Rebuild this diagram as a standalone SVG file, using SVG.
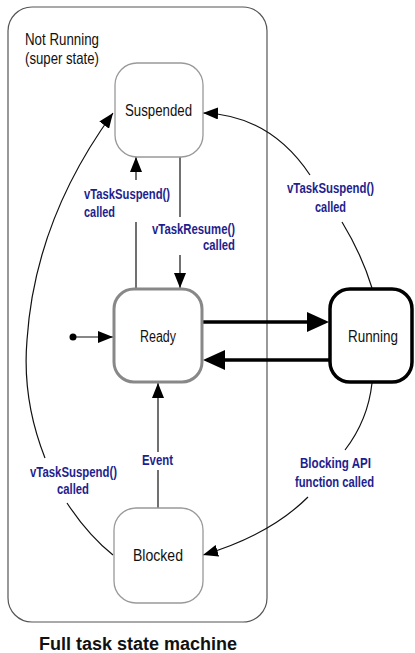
<svg xmlns="http://www.w3.org/2000/svg" width="415" height="653" viewBox="0 0 415 653">
<style>
.state{fill:#fff;}
.sname{font-family:"Liberation Sans",Arial,sans-serif;font-size:16px;fill:#111;text-anchor:middle;}
.lbl{font-family:"Liberation Sans",Arial,sans-serif;font-size:14.5px;font-weight:bold;fill:#1e1e8e;}
.conn{fill:none;stroke:#111;stroke-width:1.2;}
.thick{fill:none;stroke:#000;stroke-width:3.5;}
</style>
<defs>
<marker id="ah" markerUnits="userSpaceOnUse" markerWidth="16" markerHeight="12" refX="15" refY="6" orient="auto">
<path d="M0,0 L15,6 L0,12 z" fill="#000"/>
</marker>
<marker id="ahb" markerUnits="userSpaceOnUse" markerWidth="23" markerHeight="21" refX="0" refY="10" orient="auto">
<path d="M0,0 L22,10 L0,20 z" fill="#000"/>
</marker>
</defs>
<rect width="415" height="653" fill="#fff"/>
<g id="superstate">
<rect x="8" y="7" width="259" height="615" rx="24" fill="none" stroke="#555" stroke-width="1.2"/>
<text x="25" y="45" font-family="Liberation Sans,Arial,sans-serif" font-size="16.5" fill="#111" textLength="74" lengthAdjust="spacingAndGlyphs">Not Running</text>
<text x="25" y="64" font-family="Liberation Sans,Arial,sans-serif" font-size="16.5" fill="#111" textLength="74" lengthAdjust="spacingAndGlyphs">(super state)</text>
</g>
<g id="connectors">
<line class="conn" x1="136" y1="288" x2="136" y2="222"/>
<line class="conn" x1="136" y1="180" x2="136" y2="157" marker-end="url(#ah)"/>
<line class="conn" x1="180" y1="157" x2="180" y2="217"/>
<line class="conn" x1="180" y1="255" x2="180" y2="288" marker-end="url(#ah)"/>
<line class="thick" x1="203" y1="322" x2="307" y2="322" marker-end="url(#ahb)"/>
<line class="thick" x1="329" y1="360" x2="225" y2="360" marker-end="url(#ahb)"/>
<circle cx="73" cy="337" r="3.5" fill="#000"/>
<line class="conn" x1="76" y1="337" x2="113" y2="337" marker-end="url(#ah)"/>
<line class="conn" x1="158" y1="508" x2="158" y2="470"/>
<line class="conn" x1="158" y1="452" x2="158" y2="383" marker-end="url(#ah)"/>
<path class="conn" d="M113,555 Q88,535 67,503"/>
<path class="conn" d="M45,458 Q22,400 27,340 Q35,220 113,113" marker-end="url(#ah)"/>
<path class="conn" d="M372,288 Q362,255 342,222"/>
<path class="conn" d="M310,175 Q270,115 203,113" marker-end="url(#ah)"/>
<path class="conn" d="M372,383 Q368,420 345,450"/>
<path class="conn" d="M308,497 Q270,535 203,555" marker-end="url(#ah)"/>
<text class="lbl" x="84" y="199" textLength="86" lengthAdjust="spacingAndGlyphs">vTaskSuspend()</text>
<text class="lbl" x="84" y="217" textLength="31" lengthAdjust="spacingAndGlyphs">called</text>
<text class="lbl" x="152" y="234" textLength="83" lengthAdjust="spacingAndGlyphs">vTaskResume()</text>
<text class="lbl" x="203" y="250" textLength="32" lengthAdjust="spacingAndGlyphs">called</text>
<text class="lbl" x="287" y="193" textLength="87" lengthAdjust="spacingAndGlyphs">vTaskSuspend()</text>
<text class="lbl" x="315" y="212" textLength="31" lengthAdjust="spacingAndGlyphs">called</text>
<text class="lbl" x="30" y="477" textLength="87" lengthAdjust="spacingAndGlyphs">vTaskSuspend()</text>
<text class="lbl" x="57" y="494" textLength="32" lengthAdjust="spacingAndGlyphs">called</text>
<text class="lbl" x="142" y="465" textLength="31" lengthAdjust="spacingAndGlyphs">Event</text>
<text class="lbl" x="300" y="468" textLength="71" lengthAdjust="spacingAndGlyphs">Blocking API</text>
<text class="lbl" x="295" y="487" textLength="79" lengthAdjust="spacingAndGlyphs">function called</text>
</g>
<g id="suspended">
<rect class="state" x="115" y="63" width="88" height="94" rx="22" stroke="#999" stroke-width="1.3"/>
<text class="sname" x="158.5" y="116" textLength="67" lengthAdjust="spacingAndGlyphs">Suspended</text>
</g>
<g id="ready">
<rect class="state" x="114" y="289" width="88" height="93" rx="20" stroke="#888" stroke-width="3"/>
<text class="sname" x="158" y="342" textLength="36" lengthAdjust="spacingAndGlyphs">Ready</text>
</g>
<g id="running">
<rect class="state" x="330" y="289" width="82" height="93" rx="20" stroke="#000" stroke-width="3.5"/>
<text class="sname" x="373" y="342" textLength="50" lengthAdjust="spacingAndGlyphs">Running</text>
</g>
<g id="blocked">
<rect class="state" x="114" y="508" width="89" height="95" rx="22" stroke="#999" stroke-width="1.3"/>
<text class="sname" x="158" y="561" textLength="50" lengthAdjust="spacingAndGlyphs">Blocked</text>
</g>
<text x="39" y="650" font-family="Liberation Sans,Arial,sans-serif" font-size="18" font-weight="bold" fill="#111" textLength="198" lengthAdjust="spacingAndGlyphs">Full task state machine</text>
</svg>
